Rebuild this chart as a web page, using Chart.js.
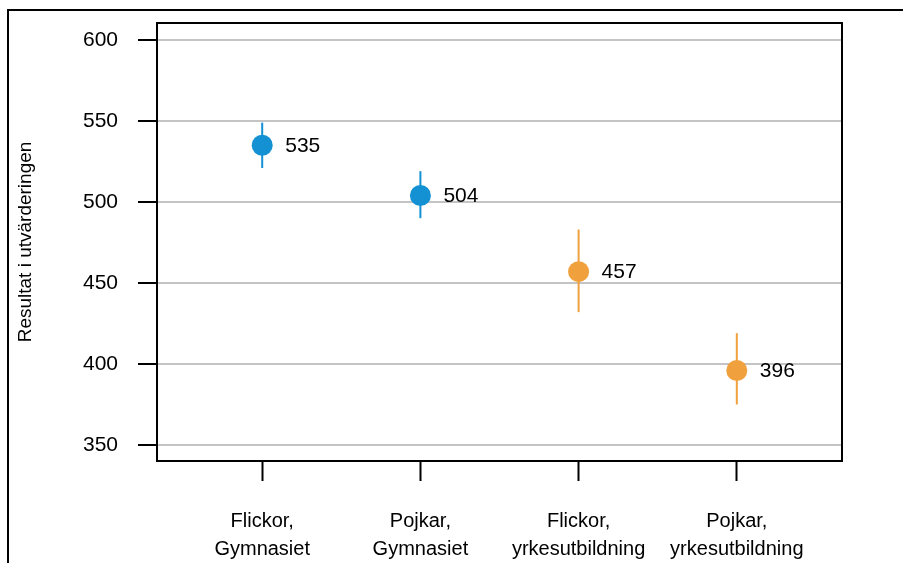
<!DOCTYPE html>
<html>
<head>
<meta charset="utf-8">
<script src="https://cdn.jsdelivr.net/npm/chart.js@4.4.0/dist/chart.umd.min.js"></script>
<style>
    html, body { margin: 0; padding: 0; background: #fff; }
    #wrap { position: relative; width: 903px; height: 563px; }
    #frame {
        position: absolute; left: 7px; top: 9px; right: 0; bottom: 0;
        border-top: 2px solid #000; border-left: 2px solid #000;
        pointer-events: none;
    }
</style>
</head>
<body>
<div id="wrap">
    <canvas id="resultChart"></canvas>
    <div id="frame"></div>
</div>
<script>
// Data
const categories = [
    ['Flickor,', 'Gymnasiet'],
    ['Pojkar,', 'Gymnasiet'],
    ['Flickor,', 'yrkesutbildning'],
    ['Pojkar,', 'yrkesutbildning']
];
const means = [535, 504, 457, 396];
const lowerCI = [521, 490, 432, 375];
const upperCI = [549, 519, 483, 419];
const yTickValues = [350, 400, 450, 500, 550, 600];

const BLUE = '#1391d3';
const ORANGE = '#f0a03c';
const pointColors = [BLUE, BLUE, ORANGE, ORANGE];
const FONT = "'Liberation Sans Narrow', 'Arial Narrow', 'Liberation Sans', Arial, sans-serif";

// error bars behind the points, value labels and plot box on top
const errorBarPlugin = {
    id: 'errorBars',
    beforeDatasetsDraw(chart) {
        const { ctx, scales: { x, y } } = chart;
        ctx.save();
        ctx.lineWidth = 2;
        means.forEach((m, i) => {
            const px = x.getPixelForValue(i + 1);
            ctx.strokeStyle = pointColors[i];
            ctx.beginPath();
            ctx.moveTo(px, y.getPixelForValue(lowerCI[i]));
            ctx.lineTo(px, y.getPixelForValue(upperCI[i]));
            ctx.stroke();
        });
        ctx.restore();
    },
    afterDatasetsDraw(chart) {
        const { ctx, scales: { x, y } } = chart;
        ctx.save();
        ctx.fillStyle = '#000';
        ctx.font = '21px ' + FONT;
        ctx.textBaseline = 'middle';
        means.forEach((m, i) => {
            ctx.fillText(String(m), x.getPixelForValue(i + 1) + 23, y.getPixelForValue(m) + 1);
        });
        const a = chart.chartArea;
        ctx.strokeStyle = '#000';
        ctx.lineWidth = 2;
        ctx.strokeRect(a.left, a.top, a.right - a.left, a.bottom - a.top);
        ctx.restore();
    }
};

new Chart(document.getElementById('resultChart'), {
    type: 'scatter',
    data: {
        datasets: [{
            data: means.map((m, i) => ({ x: i + 1, y: m })),
            pointRadius: 10.5,
            pointHoverRadius: 10.5,
            pointBackgroundColor: pointColors,
            pointBorderWidth: 0,
            borderWidth: 0
        }]
    },
    options: {
        responsive: true,
        maintainAspectRatio: false,
        animation: false,
        layout: { padding: { left: 0, top: 23, right: 61, bottom: 0 } },
        plugins: {
            legend: { display: false },
            tooltip: { enabled: false }
        },
        scales: {
            x: {
                type: 'linear',
                min: 0.335,
                max: 4.665,
                afterBuildTicks: scale => { scale.ticks = categories.map((c, i) => ({ value: i + 1 })); },
                afterFit: scale => {
                    scale.height = 102;
                    scale.paddingLeft = 0;
                    scale.paddingRight = 0;
                },
                border: { display: false },
                grid: {
                    drawOnChartArea: false,
                    tickLength: 20,
                    tickColor: '#000',
                    tickWidth: 2
                },
                ticks: {
                    autoSkip: false,
                    maxRotation: 0,
                    padding: 26,
                    color: '#000',
                    font: { family: FONT, size: 20, lineHeight: 1.4 },
                    callback: v => categories[v - 1]
                }
            },
            y: {
                min: 340.1,
                max: 610.5,
                afterBuildTicks: scale => { scale.ticks = yTickValues.map(v => ({ value: v })); },
                afterFit: scale => {
                    scale.width = 157;
                    scale.paddingTop = 0;
                    scale.paddingBottom = 0;
                },
                border: { display: false },
                grid: {
                    color: '#c4c4c4',
                    lineWidth: 2,
                    tickLength: 19,
                    tickColor: '#000',
                    tickWidth: 2
                },
                ticks: {
                    padding: 20,
                    color: '#000',
                    font: { family: FONT, size: 21 }
                },
                title: {
                    display: true,
                    text: 'Resultat i utvärderingen',
                    color: '#000',
                    font: { family: FONT, size: 19 },
                    padding: { top: 14, bottom: 0 }
                }
            }
        }
    },
    plugins: [errorBarPlugin]
});
</script>
</body>
</html>
